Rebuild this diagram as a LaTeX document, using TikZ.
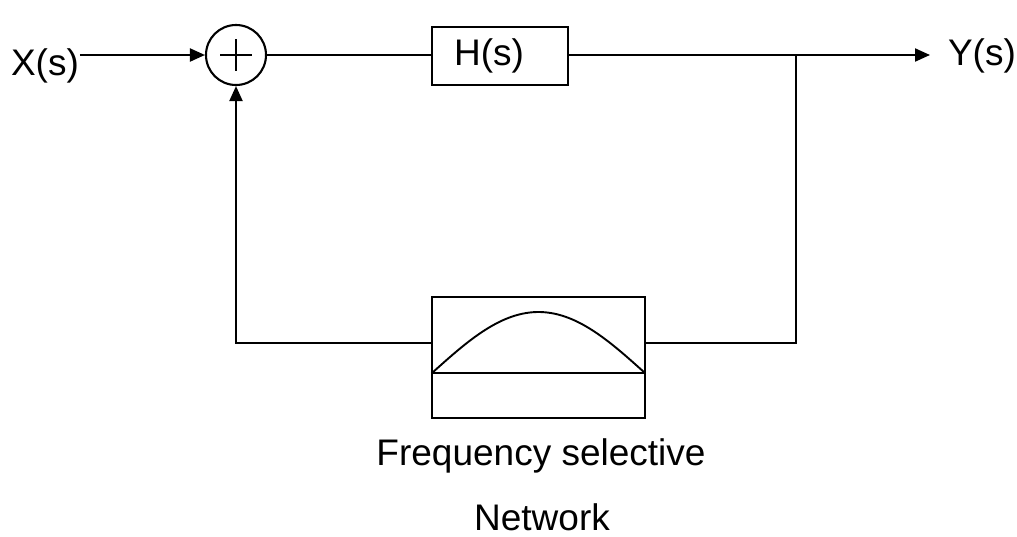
\documentclass[tikz,border=0pt]{standalone}
\usepackage{fontspec}
\setmainfont{Liberation Sans}
\usetikzlibrary{arrows.meta,calc}
\begin{document}
\begin{tikzpicture}[x=1pt,y=-1pt,line width=2.1pt,
  lbl/.style={inner sep=0pt,font=\fontsize{37}{44}\selectfont},
  blk/.style={draw,rectangle,inner sep=0pt},
  arr/.style={-{Triangle[length=15pt,width=13pt]}}]
\useasboundingbox (0,0) rectangle (1017,536);
% nodes
\node[lbl,anchor=base west] (x) at (10,75) {X(s)};
\node[draw,circle,minimum size=60pt,inner sep=0pt] (s) at (236,55) {};
\draw[line width=1.8pt] ($(s.center)+(-16,0)$) -- ($(s.center)+(16,0)$)
      ($(s.center)+(0,-16)$) -- ($(s.center)+(0,16)$);
\node[blk,minimum width=136pt,minimum height=58pt] (h) at (500,56) {};
\node[lbl,anchor=base west] (hl) at (453,65) {H(s)};
\node[lbl,anchor=base west] (y) at (947,65) {Y(s)};
\node[blk,minimum width=213pt,minimum height=121pt] (f) at (538.5,357.5) {};
\node[lbl,anchor=base] (fl1) at (541,465) {Frequency selective};
\node[lbl,anchor=base] (fl2) at (542,530) {Network};
% filter symbol
\draw ($(f.west)+(0,15.5)$) -- ($(f.east)+(0,15.5)$);
\draw[line width=1.9pt] plot[domain=0:180,samples=60,smooth] ({432+1.18333*\x},{373-61*sin(\x)});
% connectors
\coordinate (yin) at (930,55);
\coordinate (br) at (796,55);
\coordinate (brd) at (796,343);
\coordinate (fb) at (236,343);
\draw[arr] (x.east |- s.west) -- (s.west);
\draw (s.east) -- (s.east -| h.west);
\draw[arr] (s.east -| h.east) -- (yin);
\draw (br) -- (brd) -- (brd -| f.east);
\draw[arr] (brd -| f.west) -- (fb) -- (s.south);
\end{tikzpicture}
\end{document}
